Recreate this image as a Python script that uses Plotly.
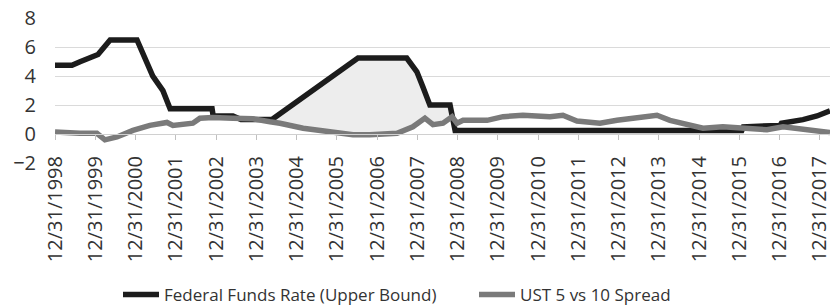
import plotly.graph_objects as go
import pandas as pd

tick_dates = [f"{y}-12-31" for y in range(1998, 2018)]
tick_labels = [f"12/31/{y}" for y in range(1998, 2018)]

fed_dates = ["1998-12-31", "1999-06-03", "1999-08-15", "1999-11-14", "2000-01-25", "2000-03-20",
             "2000-05-14", "2001-01-13", "2001-03-10", "2001-06-05", "2001-09-05", "2001-11-09",
             "2002-11-25", "2002-12-05", "2003-06-02", "2003-08-15", "2004-05-21", "2006-07-11",
             "2007-09-26", "2007-12-27", "2008-02-20", "2008-04-23", "2008-10-23", "2008-12-08",
             "2016-01-22", "2016-02-05", "2017-01-04", "2017-01-15", "2017-07-30", "2017-12-04",
             "2018-04-01"]
fed_values = [4.75, 4.75, 5.0, 5.25, 5.5, 6.0,
              6.5, 6.5, 5.5, 4.0, 3.0, 1.75,
              1.75, 1.25, 1.25, 1.0, 1.0, 5.25,
              5.25, 4.3, 3.25, 2.0, 2.0, 0.25,
              0.25, 0.5, 0.6, 0.75, 1.0, 1.25,
              1.6]

spread_dates = ["1998-12-31", "1999-04-01", "1999-08-15", "2000-01-15", "2000-03-28", "2000-07-15",
                "2000-12-07", "2001-05-10", "2001-10-12", "2001-12-05", "2002-06-04", "2002-08-07",
                "2002-12-03", "2003-06-02", "2003-12-01", "2004-05-03", "2004-08-02", "2005-02-28",
                "2006-01-01", "2006-05-26", "2006-10-27", "2007-06-30", "2007-11-21", "2008-03-09",
                "2008-05-21", "2008-08-20", "2008-11-10", "2008-12-25", "2009-02-18", "2009-09-24",
                "2010-02-16", "2010-08-15", "2011-04-17", "2011-08-13", "2011-12-18", "2012-07-14",
                "2012-12-15", "2013-07-12", "2013-12-13", "2014-04-10", "2014-10-08", "2015-02-04",
                "2015-08-03", "2016-02-01", "2016-09-06", "2017-01-30", "2017-07-30", "2018-04-01"]
spread_values = [0.15, 0.1, 0.05, 0.05, -0.4, -0.2,
                 0.25, 0.6, 0.8, 0.6, 0.75, 1.1,
                 1.15, 1.1, 1.05, 0.85, 0.75, 0.4,
                 0.05, -0.05, -0.05, 0.05, 0.5, 1.1,
                 0.65, 0.75, 1.2, 0.75, 0.95, 0.95,
                 1.2, 1.3, 1.2, 1.3, 0.9, 0.75,
                 0.95, 1.1, 1.3, 0.95, 0.6, 0.4,
                 0.5, 0.4, 0.3, 0.5, 0.3, 0.1]

shade_start = "2004-03-01"
shade_end = "2008-12-08"

fed = pd.DataFrame({"d": pd.to_datetime(fed_dates), "v": fed_values})
spr = pd.DataFrame({"d": pd.to_datetime(spread_dates), "v": spread_values})
fs = fed[(fed.d >= shade_start) & (fed.d <= shade_end)]
ss = spr[(spr.d >= shade_start) & (spr.d <= shade_end)]

font = "Open Sans, Lato, sans-serif"
fig = go.Figure()
fig.add_trace(go.Scatter(x=ss.d, y=ss.v, mode="lines", line=dict(width=0), showlegend=False,
                         hoverinfo="skip", xaxis="x2"))
fig.add_trace(go.Scatter(x=fs.d, y=fs.v, mode="lines", line=dict(width=0), fill="tonexty",
                         fillcolor="#ededed", showlegend=False, hoverinfo="skip", xaxis="x2"))
fig.add_trace(go.Scatter(x=fed.d, y=fed.v, mode="lines", name="Federal Funds Rate (Upper Bound)",
                         line=dict(color="#1c1c1c", width=5.5), xaxis="x2"))
fig.add_trace(go.Scatter(x=spr.d, y=spr.v, mode="lines", name="UST 5 vs 10 Spread",
                         line=dict(color="#7a7a7a", width=5.5), xaxis="x2"))

x_range = ["1998-12-31", "2018-04-01"]
fig.update_layout(
    width=830, height=308,
    margin=dict(l=55, r=0, t=18, b=145),
    paper_bgcolor="white", plot_bgcolor="white",
    font=dict(family=font, color="#333333"),
    showlegend=True,
    legend=dict(orientation="h", traceorder="normal", x=0.087, xanchor="left", itemwidth=36,
                yref="container", y=0.042, yanchor="middle",
                font=dict(size=17, color="#333333"), entrywidth=305, entrywidthmode="pixels"),
    xaxis=dict(type="date", range=x_range, showticklabels=False, showgrid=False, showline=True,
               linecolor="#9a9a9a", linewidth=1, ticks="", automargin=False),
    xaxis2=dict(type="date", range=x_range, overlaying="x", anchor="free", position=0.2, side="bottom",
                tickvals=tick_dates, ticktext=tick_labels, tickangle=-90, showgrid=False,
                showline=True, linecolor="#d0d0d0", ticks="outside", ticklen=5, tickcolor="#c0c0c0",
                tickfont=dict(size=20, color="#333333"), ticklabelstandoff=8, automargin=False,
                ticklabeloverflow="allow"),
    yaxis=dict(range=[-2, 8.02], tickvals=[-2, 0, 2, 4, 6, 8], gridcolor="#dadada", gridwidth=1,
               zeroline=False, showline=False, ticks="", tickfont=dict(size=20, color="#333333"),
               automargin=False, ticklabelstandoff=18),
)
fig.write_html("out.html", config={"displayModeBar": False},
               post_script="document.body.style.margin='0';document.body.style.overflow='hidden';")
